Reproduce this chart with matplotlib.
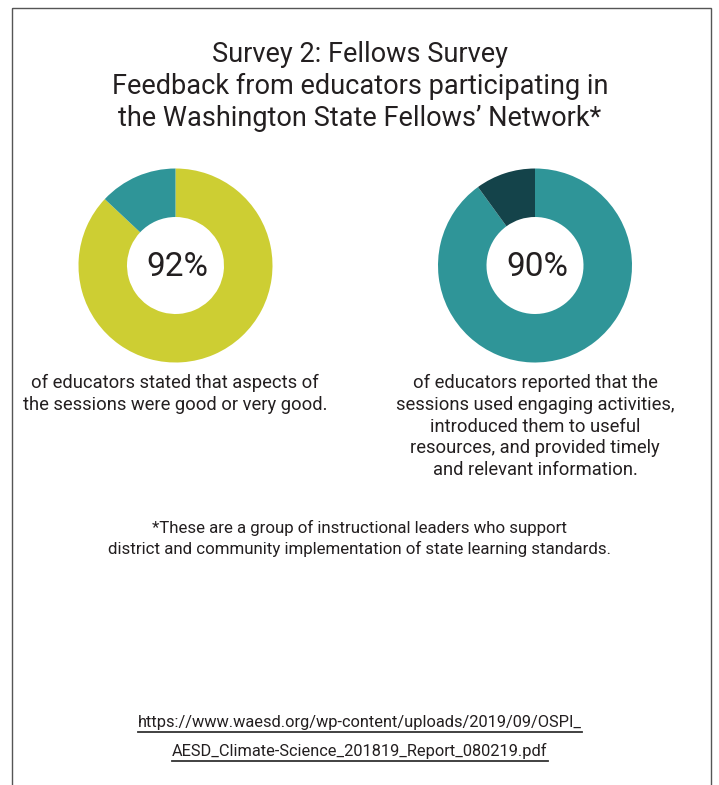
import matplotlib
matplotlib.use("Agg")
import matplotlib.pyplot as plt
from matplotlib.patches import Rectangle

# ── Data ──────────────────────────────────────────────
title_lines = ["Survey 2: Fellows Survey",
               "Feedback from educators participating in",
               "the Washington State Fellows\u2019 Network*"]
donut_labels = ["92%", "90%"]
donut_values = [[87, 13], [90, 10]]
donut_colors = [["#CDCE33", "#2F9598"], ["#2F9598", "#14434A"]]
captions = [
    ["of educators stated that aspects of",
     "the sessions were good or very good."],
    ["of educators reported that the",
     "sessions used engaging activities,",
     "introduced them to useful",
     "resources, and provided timely",
     "and relevant information."],
]
footnote = ["*These are a group of instructional leaders who support",
            "district and community implementation of state learning standards."]
source = ["https://www.waesd.org/wp-content/uploads/2019/09/OSPI_",
          "AESD_Climate-Science_201819_Report_080219.pdf"]

W, H = 719, 785
TXT = "#231F20"
FONT = ["Roboto", "DejaVu Sans"]

fig = plt.figure(figsize=(W / 100, H / 100), dpi=100)
ax = fig.add_axes([0, 0, 1, 1])
ax.set_xlim(0, W)
ax.set_ylim(H, 0)
ax.axis("off")

# frame (open at the bottom)
ax.add_patch(Rectangle((12, 8), 699, 800, fill=False, edgecolor="#555555", lw=1.0))

for i, line in enumerate(title_lines):
    ax.text(360, 54 + i * 32.5, line, ha="center", va="center",
            fontsize=19.5, family=FONT, color=TXT)

# donuts
centers = [(175.5, 265.5), (535, 265.5)]
R = 97
for (cx, cy), vals, cols, lab in zip(centers, donut_values, donut_colors, donut_labels):
    dax = fig.add_axes([(cx - R) / W, 1 - (cy + R) / H, 2 * R / W, 2 * R / H])
    dax.pie(vals, colors=cols, startangle=90, counterclock=False,
            wedgeprops=dict(width=0.5, edgecolor="none"))
    dax.set_xlim(-1, 1)
    dax.set_ylim(-1, 1)
    dax.axis("off")
    dax.text(0.02, -0.02, lab, ha="center", va="center", fontsize=24,
             family=FONT, color=TXT)

cap_x = [175, 535]
for x, lines in zip(cap_x, captions):
    for j, line in enumerate(lines):
        ax.text(x, 383 + j * 21.8, line, ha="center", va="center",
                fontsize=13.2, family=FONT, color=TXT)

for j, line in enumerate(footnote):
    ax.text(360, 528 + j * 21, line, ha="center", va="center",
            fontsize=12.2, family=FONT, color=TXT)

src_texts = []
for j, line in enumerate(source):
    src_texts.append(ax.text(360, 723 + j * 28, line, ha="center", va="center",
                             fontsize=11.8, family=FONT, color=TXT))

# underline the source link
fig.canvas.draw()
renderer = fig.canvas.get_renderer()
inv = ax.transData.inverted()
for t in src_texts:
    bb = t.get_window_extent(renderer)
    (x0, y0), (x1, _) = inv.transform([[bb.x0, bb.y0], [bb.x1, bb.y1]])
    ax.plot([x0, x1], [y0 + 1.5, y0 + 1.5], color="#333333", lw=1.3)

fig.savefig("out.png", dpi=100, facecolor="white")
